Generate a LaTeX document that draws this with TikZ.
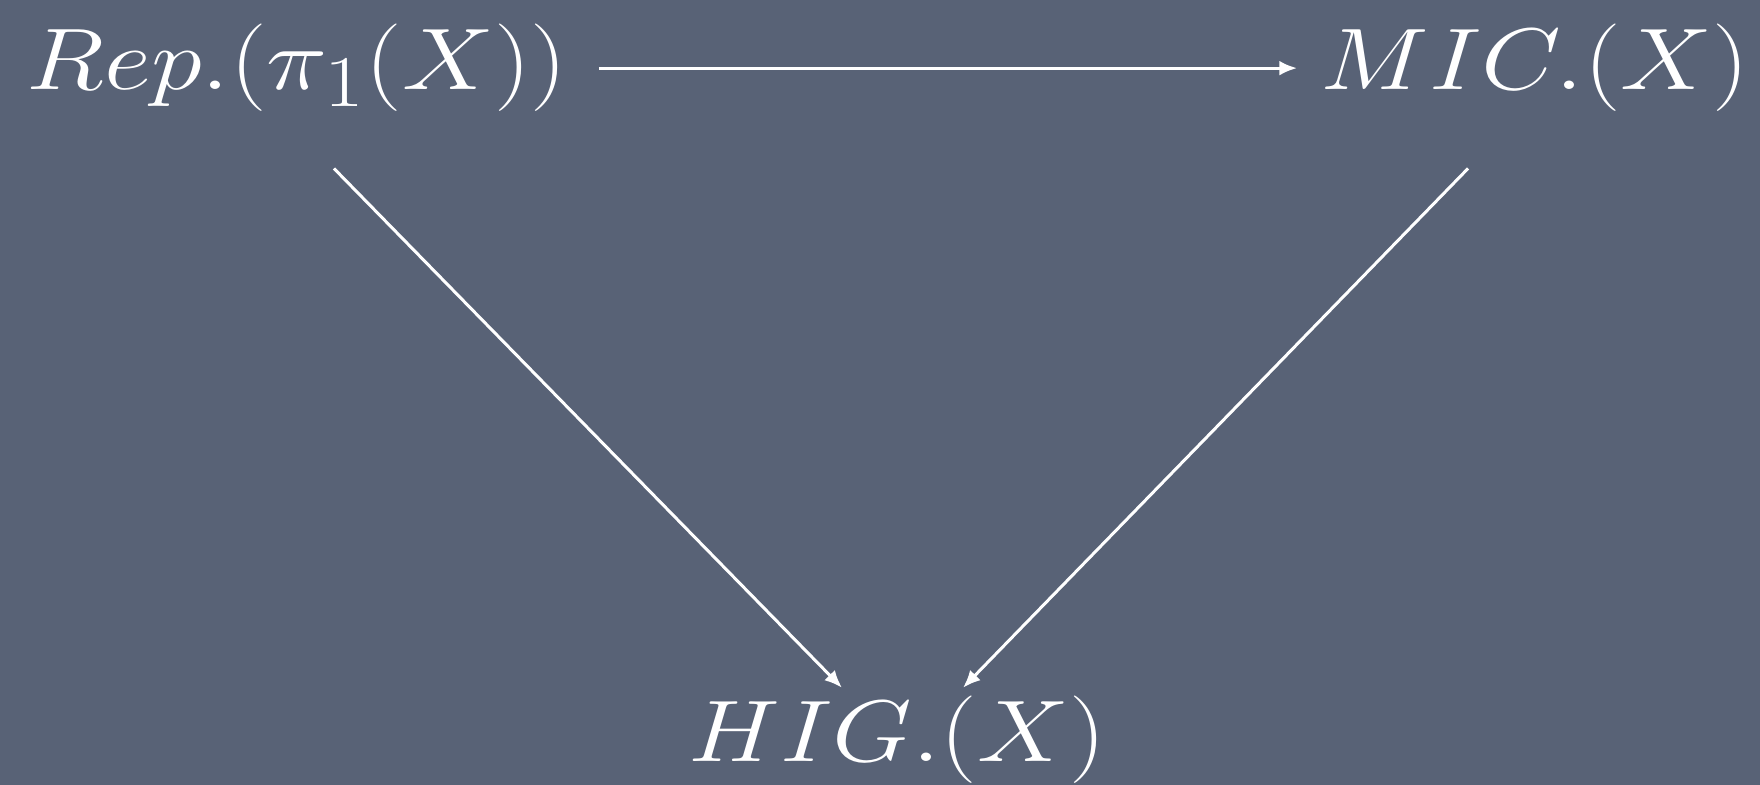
\documentclass[tikz,border=0pt]{standalone}
\usepackage{xcolor}
\definecolor{slate}{RGB}{88,98,118}
\usepackage{tikz}
\usetikzlibrary{arrows.meta,positioning,calc}

\begin{document}
\begin{tikzpicture}[every node/.style={text=white, inner sep=0pt, xscale=1.18, font=\fontsize{29}{35}\selectfont},
  arr/.style={draw=white, line width=0.85pt, -{Latex[length=5pt,width=4.2pt]}}]
  \fill[slate] (0,0) rectangle (17.6,7.85);
  \useasboundingbox (0,0) rectangle (17.6,7.85);
  \node[anchor=base] (rep) at (2.97,6.95) {$Rep.(\pi_1(X))$};
  \node[anchor=base] (mic) at (15.35,6.95) {$MIC.(X)$};
  \node[anchor=base] (hig) at (8.97,0.23) {$HIG.(X)$};
  \draw[arr] ([xshift=0.31cm]rep.east) -- ([xshift=-0.23cm]mic.west);
  \draw[arr] ([xshift=0.37cm,yshift=-0.56cm]rep.south) -- ([xshift=-0.55cm,yshift=0.08cm]hig.north);
  \draw[arr] ([xshift=-0.67cm,yshift=-0.56cm]mic.south) -- ([xshift=0.66cm,yshift=0.08cm]hig.north);
\end{tikzpicture}
\end{document}
